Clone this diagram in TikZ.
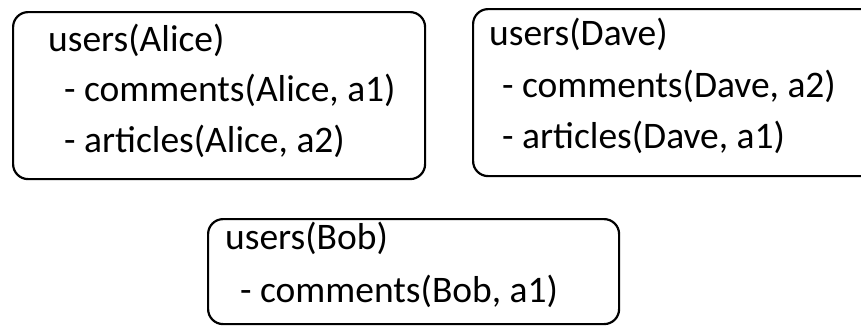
\documentclass[tikz,border=0pt]{standalone}
\usepackage{fontspec}
\setmainfont{Carlito}
\begin{document}
\begin{tikzpicture}[x=1pt,y=-1pt,
  card/.style={draw=black, line width=2.2pt, rounded corners=15pt, anchor=north west, inner sep=0pt},
  entry/.style={anchor=base west, inner sep=0pt, font=\fontsize{37.5}{37.5}\selectfont}]
\useasboundingbox (0,0) rectangle (861,325);

% Alice
\node[card, minimum width=412pt, minimum height=167pt] (alicebox) at (12,11) {};
\node[entry] (alice1) at (48,51) {users(Alice)};
\node[entry] (alice2) at (64,101) {- comments(Alice, a1)};
\node[entry] (alice3) at (64,152) {- articles(Alice, a2)};

% Dave (box runs past the right edge)
\node[card, minimum width=410pt, minimum height=167pt] (davebox) at (472,8) {};
\node[entry] (dave1) at (489,45) {users(Dave)};
\node[entry] (dave2) at (502,97) {- comments(Dave, a2)};
\node[entry] (dave3) at (502,148) {- articles(Dave, a1)};

% Bob
\node[card, minimum width=411pt, minimum height=105pt] (bobbox) at (207,218) {};
\node[entry] (bob1) at (225,249) {users(Bob)};
\node[entry] (bob2) at (240,302) {- comments(Bob, a1)};
\end{tikzpicture}
\end{document}
